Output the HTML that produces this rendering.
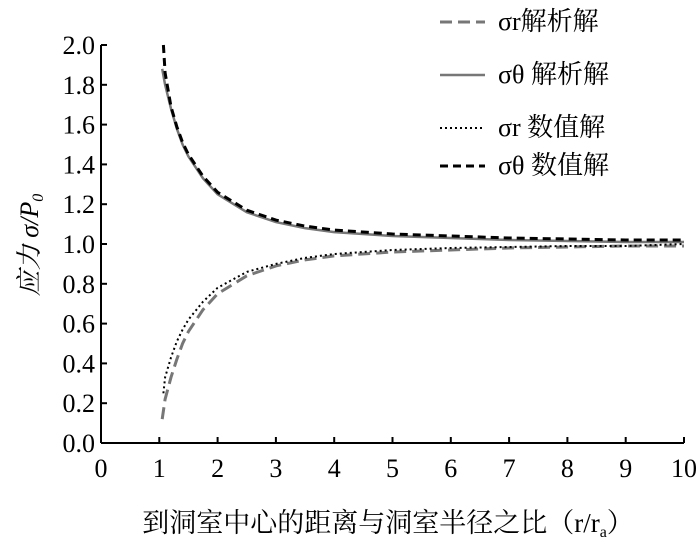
<!DOCTYPE html>
<html><head><meta charset="utf-8"><style>
body{margin:0;background:#fff}
svg, svg text{font-family:"Liberation Serif","Times New Roman","Noto Serif CJK SC",serif}
svg text{fill:#000}
</style></head><body>
<svg id="chart" width="700" height="555" font-family="Liberation Serif, Noto Serif CJK SC, serif">
<g id="axes"></g><g id="series"></g>
<g>
 <line x1="440" y1="22" x2="485" y2="22" stroke="#777" stroke-width="3" stroke-dasharray="12,6"/>
 <text x="498" y="30" font-size="26">σr解析解</text>
 <line x1="440" y1="75" x2="485" y2="75" stroke="#777" stroke-width="2.5"/>
 <text x="498" y="83" font-size="26">σθ 解析解</text>
 <line x1="440" y1="128" x2="485" y2="128" stroke="#000" stroke-width="2" stroke-dasharray="2,3"/>
 <text x="498" y="136" font-size="26">σr 数值解</text>
 <line x1="440" y1="166" x2="485" y2="166" stroke="#000" stroke-width="3" stroke-dasharray="8,5"/>
 <text x="498" y="174" font-size="26">σθ 数值解</text>
</g>
<text transform="translate(38,245) rotate(-90)" text-anchor="middle" font-size="26" font-style="italic">应力 σ/P<tspan font-size="16" dy="5">0</tspan></text>
<text x="388" y="532" text-anchor="middle" font-size="27">到洞室中心的距离与洞室半径之比（r/r<tspan font-size="16" dy="5">a</tspan><tspan dy="-5">）</tspan></text>
</svg>
<script>
const xTicks=[0,1,2,3,4,5,6,7,8,9,10];
const yTicks=["0.0","0.2","0.4","0.6","0.8","1.0","1.2","1.4","1.6","1.8","2.0"];
const rA=[1.05,1.1,1.2,1.3,1.4,1.5,1.75,2,2.5,3,3.5,4,5,6,7,8,9,10];
const thetaA=[1.88,1.80,1.68,1.58,1.50,1.44,1.33,1.25,1.16,1.11,1.08,1.06,1.04,1.03,1.02,1.015,1.01,1.01];
const srA=[0.12,0.22,0.33,0.42,0.50,0.56,0.67,0.75,0.84,0.89,0.92,0.94,0.96,0.97,0.98,0.985,0.99,0.99];
const rN=[1.07,1.1,1.2,1.3,1.4,1.5,1.75,2,2.5,3,3.5,4,5,6,7,8,9,10];
const thetaN=[2.0,1.86,1.69,1.59,1.51,1.45,1.34,1.26,1.17,1.12,1.09,1.07,1.05,1.04,1.03,1.025,1.02,1.02];
const srN=[0.25,0.33,0.43,0.51,0.57,0.62,0.71,0.78,0.86,0.90,0.93,0.95,0.97,0.98,0.985,0.99,0.99,1.0];
const X=v=>101+v*58.3, Y=v=>443-v*199;
const NS="http://www.w3.org/2000/svg";
const ax=document.getElementById('axes'), se=document.getElementById('series');
function mk(tag,at,p){const e=document.createElementNS(NS,tag);for(const k in at)e.setAttribute(k,at[k]);p.appendChild(e);return e;}
const xl=mk('line',{x1:X(0),y1:Y(0),x2:X(10),y2:Y(0),stroke:'#000','stroke-width':2},ax);


const yl=mk('line',{x1:X(0),y1:Y(0),x2:X(0),y2:Y(2),stroke:'#000','stroke-width':2},ax);


xTicks.forEach(t=>{
 mk('line',{x1:X(t),y1:Y(0),x2:X(t),y2:Y(0)-6,stroke:'#000','stroke-width':2},ax);
 const tx=mk('text',{x:X(t),y:Y(0)+34,'text-anchor':'middle','font-size':26},ax);
 tx.textContent=t;
 
 
});
yTicks.forEach(t=>{
 const v=parseFloat(t);
 mk('line',{x1:X(0),y1:Y(v),x2:X(0)+6,y2:Y(v),stroke:'#000','stroke-width':2},ax);
 const tx=mk('text',{x:X(0)-6,y:Y(v)+9,'text-anchor':'end','font-size':26},ax);
 tx.textContent=t;
 
 
});
function line(xs,ys,st,name){
 const d=xs.map((x,i)=>(i?'L':'M')+X(x).toFixed(1)+','+Y(ys[i]).toFixed(1)).join(' ');
 const p=mk('path',Object.assign({d:d,fill:'none'},st),se);
 
 
}
line(rA,thetaA,{stroke:'#777','stroke-width':2.5},'sigma-theta-analytic');
line(rN,thetaN,{stroke:'#000','stroke-width':3,'stroke-dasharray':'8,5'},'sigma-theta-numeric');
line(rA,srA,{stroke:'#777','stroke-width':3,'stroke-dasharray':'12,6'},'sigma-r-analytic');
line(rN,srN,{stroke:'#000','stroke-width':2,'stroke-dasharray':'2,3'},'sigma-r-numeric');
</script>
</body></html>
